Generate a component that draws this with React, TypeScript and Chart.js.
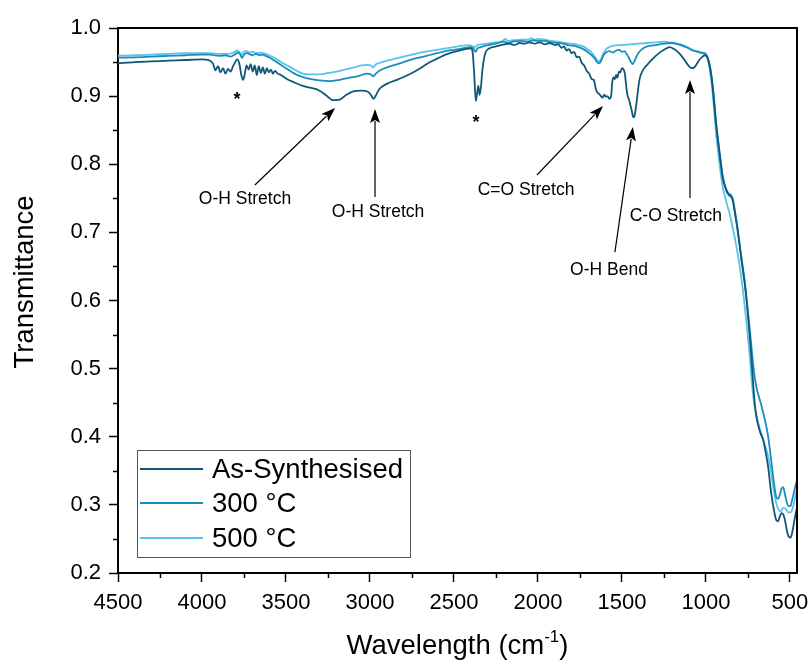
import React, { useEffect, useRef } from "react";
import { Chart, registerables } from "chart.js";

Chart.register(...registerables);

// ---------- data ----------
const seriesLabels = ["As-Synthesised", "300 °C", "500 °C"];
const seriesColors = ["#0f5878", "#1b8cbe", "#5ac4e8"];

const xTicks = [4500, 4000, 3500, 3000, 2500, 2000, 1500, 1000, 500];
const xMinorTicks = [4250, 3750, 3250, 2750, 2250, 1750, 1250, 750];
const yTicks = [0.2, 0.3, 0.4, 0.5, 0.6, 0.7, 0.8, 0.9, 1.0];
const yMinorTicks = [0.25, 0.35, 0.45, 0.55, 0.65, 0.75, 0.85, 0.95];

// [wavenumber, transmittance]
const asSynthesised: [number, number][] = [
  [4500, 0.948], [4400, 0.95], [4300, 0.951], [4200, 0.952], [4100, 0.953], [4000, 0.954],
  [3960, 0.953], [3935, 0.948], [3920, 0.938], [3905, 0.944], [3890, 0.935], [3875, 0.941],
  [3860, 0.933], [3845, 0.94], [3830, 0.936], [3815, 0.944], [3800, 0.951], [3790, 0.954],
  [3778, 0.948], [3765, 0.93], [3755, 0.924], [3745, 0.933], [3735, 0.945], [3722, 0.939],
  [3710, 0.947], [3698, 0.936], [3686, 0.945], [3674, 0.931], [3662, 0.944], [3650, 0.934],
  [3638, 0.942], [3626, 0.933], [3614, 0.941], [3602, 0.935], [3590, 0.939], [3578, 0.933],
  [3565, 0.937], [3550, 0.933], [3530, 0.931], [3500, 0.926], [3450, 0.92], [3400, 0.915],
  [3350, 0.912], [3300, 0.908], [3260, 0.901], [3220, 0.894], [3180, 0.895], [3140, 0.902],
  [3100, 0.907], [3050, 0.908], [3010, 0.906], [2990, 0.9], [2978, 0.896], [2965, 0.901],
  [2945, 0.91], [2900, 0.918], [2850, 0.923], [2800, 0.928], [2750, 0.934], [2700, 0.941],
  [2650, 0.949], [2600, 0.955], [2550, 0.961], [2500, 0.965], [2450, 0.968], [2400, 0.97],
  [2390, 0.966], [2380, 0.935], [2370, 0.893], [2362, 0.905], [2355, 0.915], [2348, 0.902],
  [2340, 0.912], [2330, 0.94], [2315, 0.962], [2290, 0.97], [2250, 0.973], [2200, 0.976],
  [2170, 0.977], [2140, 0.975], [2110, 0.978], [2080, 0.977], [2050, 0.979], [2020, 0.977],
  [1990, 0.979], [1960, 0.976], [1930, 0.978], [1900, 0.975], [1880, 0.976], [1860, 0.971],
  [1845, 0.973], [1830, 0.967], [1815, 0.969], [1800, 0.963], [1785, 0.965], [1770, 0.957],
  [1755, 0.958], [1740, 0.949], [1725, 0.945], [1710, 0.937], [1695, 0.933], [1680, 0.925],
  [1668, 0.924], [1655, 0.91], [1645, 0.905], [1635, 0.903], [1625, 0.9], [1615, 0.898],
  [1605, 0.902], [1595, 0.899], [1585, 0.9], [1575, 0.896], [1565, 0.899], [1558, 0.92],
  [1550, 0.928], [1542, 0.925], [1535, 0.931], [1527, 0.927], [1518, 0.936], [1510, 0.935],
  [1500, 0.941], [1490, 0.939], [1482, 0.932], [1474, 0.913], [1466, 0.9], [1458, 0.895],
  [1450, 0.887], [1442, 0.879], [1434, 0.87], [1428, 0.869], [1420, 0.878], [1412, 0.893],
  [1404, 0.91], [1395, 0.925], [1385, 0.933], [1370, 0.94], [1350, 0.946], [1320, 0.954],
  [1285, 0.962], [1250, 0.968], [1215, 0.972], [1190, 0.969], [1160, 0.963], [1130, 0.954],
  [1105, 0.945], [1085, 0.941], [1070, 0.942], [1055, 0.947], [1040, 0.953], [1020, 0.958],
  [1005, 0.96], [992, 0.957], [980, 0.947], [968, 0.93], [955, 0.9], [940, 0.86],
  [920, 0.818], [900, 0.78], [880, 0.762], [865, 0.755], [852, 0.753], [840, 0.746],
  [826, 0.726], [810, 0.7], [790, 0.662], [770, 0.626], [755, 0.592], [740, 0.55],
  [725, 0.5], [712, 0.455], [700, 0.43], [690, 0.418], [675, 0.405], [660, 0.396],
  [645, 0.378], [630, 0.356], [612, 0.318], [595, 0.292], [580, 0.277], [570, 0.276],
  [560, 0.283], [550, 0.288], [540, 0.286], [530, 0.278], [518, 0.262], [506, 0.253],
  [496, 0.252], [486, 0.26], [475, 0.275], [465, 0.288], [458, 0.296],
];

const calcined300: [number, number][] = [
  [4500, 0.9565], [4400, 0.957], [4300, 0.958], [4200, 0.959], [4100, 0.96], [4000, 0.961],
  [3950, 0.961], [3900, 0.959], [3860, 0.96], [3830, 0.958], [3800, 0.962], [3785, 0.964],
  [3772, 0.961], [3762, 0.956], [3750, 0.961], [3735, 0.963], [3720, 0.962], [3700, 0.96],
  [3680, 0.962], [3660, 0.96], [3640, 0.961], [3620, 0.959], [3600, 0.957], [3575, 0.953],
  [3550, 0.949], [3500, 0.941], [3450, 0.933], [3400, 0.928], [3350, 0.925], [3300, 0.923],
  [3240, 0.922], [3180, 0.924], [3120, 0.927], [3060, 0.93], [3020, 0.933], [2995, 0.932],
  [2980, 0.929], [2965, 0.933], [2940, 0.938], [2900, 0.942], [2850, 0.946], [2800, 0.95],
  [2750, 0.954], [2700, 0.957], [2650, 0.96], [2600, 0.963], [2550, 0.966], [2500, 0.968],
  [2450, 0.97], [2400, 0.972], [2385, 0.97], [2372, 0.965], [2360, 0.97], [2340, 0.972],
  [2300, 0.975], [2250, 0.977], [2200, 0.98], [2180, 0.978], [2150, 0.98], [2100, 0.981],
  [2060, 0.98], [2030, 0.982], [2000, 0.981], [1960, 0.981], [1920, 0.979], [1880, 0.978],
  [1850, 0.977], [1820, 0.975], [1790, 0.974], [1760, 0.972], [1730, 0.969], [1700, 0.964],
  [1680, 0.96], [1662, 0.955], [1648, 0.95], [1636, 0.948], [1624, 0.952], [1610, 0.96],
  [1595, 0.964], [1575, 0.966], [1555, 0.964], [1535, 0.967], [1515, 0.968], [1500, 0.965],
  [1485, 0.966], [1470, 0.961], [1458, 0.956], [1446, 0.95], [1436, 0.947], [1426, 0.951],
  [1414, 0.958], [1400, 0.964], [1380, 0.969], [1350, 0.973], [1300, 0.975], [1250, 0.977],
  [1200, 0.978], [1150, 0.975], [1110, 0.971], [1080, 0.967], [1050, 0.965], [1020, 0.963],
  [1003, 0.962], [990, 0.957], [978, 0.946], [966, 0.928], [955, 0.905], [940, 0.862],
  [920, 0.82], [900, 0.782], [880, 0.764], [865, 0.757], [852, 0.755], [840, 0.749],
  [826, 0.729], [810, 0.703], [790, 0.665], [770, 0.63], [755, 0.596], [740, 0.56],
  [725, 0.521], [712, 0.492], [700, 0.473], [685, 0.459], [670, 0.446], [650, 0.426],
  [630, 0.401], [612, 0.366], [595, 0.332], [582, 0.312], [570, 0.309], [560, 0.315],
  [550, 0.324], [540, 0.326], [530, 0.316], [518, 0.303], [506, 0.298], [496, 0.299],
  [486, 0.308], [475, 0.32], [465, 0.33], [458, 0.336],
];

const calcined500: [number, number][] = [
  [4500, 0.9594], [4400, 0.96], [4300, 0.961], [4200, 0.962], [4100, 0.963], [4000, 0.963],
  [3950, 0.963], [3900, 0.962], [3850, 0.962], [3810, 0.964], [3790, 0.967], [3778, 0.965],
  [3766, 0.961], [3752, 0.965], [3735, 0.966], [3715, 0.964], [3695, 0.965], [3675, 0.963],
  [3650, 0.964], [3620, 0.962], [3600, 0.96], [3575, 0.957], [3550, 0.953], [3500, 0.946],
  [3450, 0.939], [3400, 0.933], [3350, 0.932], [3300, 0.932], [3250, 0.934], [3200, 0.936],
  [3150, 0.939], [3100, 0.942], [3050, 0.945], [3015, 0.946], [2995, 0.945], [2982, 0.942],
  [2968, 0.946], [2940, 0.949], [2900, 0.952], [2850, 0.955], [2800, 0.958], [2750, 0.961],
  [2700, 0.964], [2650, 0.966], [2600, 0.968], [2550, 0.97], [2500, 0.972], [2450, 0.974],
  [2410, 0.975], [2390, 0.973], [2375, 0.972], [2360, 0.975], [2300, 0.977], [2250, 0.979],
  [2210, 0.981], [2195, 0.984], [2180, 0.981], [2150, 0.982], [2100, 0.983], [2060, 0.983],
  [2040, 0.985], [2020, 0.983], [2000, 0.984], [1960, 0.983], [1920, 0.981], [1880, 0.98],
  [1840, 0.978], [1800, 0.977], [1760, 0.975], [1730, 0.973], [1700, 0.968], [1680, 0.964],
  [1662, 0.958], [1648, 0.953], [1636, 0.951], [1624, 0.955], [1610, 0.963], [1595, 0.969],
  [1575, 0.972], [1550, 0.974], [1500, 0.975], [1450, 0.976], [1400, 0.977], [1350, 0.978],
  [1300, 0.979], [1250, 0.98], [1200, 0.978], [1150, 0.976], [1110, 0.972], [1080, 0.968],
  [1050, 0.966], [1020, 0.964], [1003, 0.963], [990, 0.955], [978, 0.94], [966, 0.918],
  [955, 0.89], [940, 0.846], [920, 0.802], [900, 0.766], [880, 0.746], [860, 0.728],
  [840, 0.706], [820, 0.681], [800, 0.652], [780, 0.615], [760, 0.57], [740, 0.52],
  [725, 0.475], [712, 0.447], [700, 0.432], [680, 0.412], [660, 0.396], [640, 0.381],
  [620, 0.36], [600, 0.327], [585, 0.306], [570, 0.294], [555, 0.29], [540, 0.296],
  [525, 0.294], [510, 0.289], [496, 0.289], [482, 0.297], [468, 0.312], [458, 0.324],
];

const seriesData = [asSynthesised, calcined300, calcined500];

// annotation texts (positions in data units: wavenumber, transmittance)
const peakLabels = [
  { text: "O-H Stretch", at: [3744, 0.749], from: [3685, 0.7695], to: [3208, 0.8826] },
  { text: "O-H Stretch", at: [2952, 0.73], from: [2970, 0.752], to: [2970, 0.881] },
  { text: "C=O Stretch", at: [2071, 0.762], from: [2006, 0.7842], to: [1613, 0.8855] },
  { text: "O-H Bend", at: [1577, 0.645], from: [1542, 0.671], to: [1435, 0.8547] },
  { text: "C-O Stretch", at: [1179, 0.724], from: [1095, 0.7505], to: [1095, 0.9237] },
];
const starMarks = [
  [3792, 0.887],
  [2369, 0.8532],
];

const xTitleMain = "Wavelength (cm";
const xTitleSup = "-1";
const xTitleEnd = ")";
const yTitle = "Transmittance";

const FONT = "'Liberation Sans', Arial, Helvetica, sans-serif";

function drawArrow(ctx: CanvasRenderingContext2D, x1: number, y1: number, x2: number, y2: number) {
  const ang = Math.atan2(y2 - y1, x2 - x1);
  const L = 14;
  const W = 5;
  const bx = x2 - L * Math.cos(ang);
  const by = y2 - L * Math.sin(ang);
  ctx.beginPath();
  ctx.moveTo(x1, y1);
  ctx.lineTo(bx + 2 * Math.cos(ang), by + 2 * Math.sin(ang));
  ctx.stroke();
  ctx.beginPath();
  ctx.moveTo(x2, y2);
  ctx.lineTo(bx + W * Math.sin(ang), by - W * Math.cos(ang));
  ctx.lineTo(bx + 3 * Math.cos(ang), by + 3 * Math.sin(ang));
  ctx.lineTo(bx - W * Math.sin(ang), by + W * Math.cos(ang));
  ctx.closePath();
  ctx.fill();
}

const decorPlugin = {
  id: "decor",
  afterDatasetsDraw(chart: any) {
    const { ctx, chartArea, scales } = chart;
    const xs = scales.x;
    const ys = scales.y;
    ctx.save();
    // frame top / right
    ctx.strokeStyle = "#000";
    ctx.lineWidth = 2;
    ctx.beginPath();
    ctx.moveTo(chartArea.left, chartArea.top);
    ctx.lineTo(chartArea.right, chartArea.top);
    ctx.lineTo(chartArea.right, chartArea.bottom);
    ctx.stroke();
    // minor ticks
    ctx.lineWidth = 1.5;
    ctx.beginPath();
    for (const v of xMinorTicks) {
      const px = Math.round(xs.getPixelForValue(v)) + 0.5;
      ctx.moveTo(px, chartArea.bottom);
      ctx.lineTo(px, chartArea.bottom + 5);
    }
    for (const v of yMinorTicks) {
      const py = Math.round(ys.getPixelForValue(v)) + 0.5;
      ctx.moveTo(chartArea.left, py);
      ctx.lineTo(chartArea.left - 5, py);
    }
    ctx.stroke();

    // annotations
    ctx.fillStyle = "#000";
    ctx.strokeStyle = "#000";
    ctx.lineWidth = 1.2;
    ctx.font = `17.5px ${FONT}`;
    ctx.textAlign = "center";
    ctx.textBaseline = "middle";
    for (const a of peakLabels) {
      const tx = xs.getPixelForValue(a.at[0]);
      const ty = ys.getPixelForValue(a.at[1]);
      ctx.fillText(a.text, tx, ty);
      drawArrow(
        ctx,
        xs.getPixelForValue(a.from[0]),
        ys.getPixelForValue(a.from[1]),
        xs.getPixelForValue(a.to[0]),
        ys.getPixelForValue(a.to[1])
      );
    }
    ctx.font = `bold 18px ${FONT}`;
    ctx.textBaseline = "alphabetic";
    for (const s of starMarks) {
      ctx.fillText("*", xs.getPixelForValue(s[0]), ys.getPixelForValue(s[1]));
    }

    // x axis title with superscript
    const cx = (chartArea.left + chartArea.right) / 2;
    const ty = 646;
    const big = `27.5px ${FONT}`;
    const small = `17px ${FONT}`;
    ctx.font = big;
    const w1 = ctx.measureText(xTitleMain).width;
    const w3 = ctx.measureText(xTitleEnd).width;
    ctx.font = small;
    const w2 = ctx.measureText(xTitleSup).width;
    const total = w1 + w2 + w3;
    const x0 = cx - total / 2;
    ctx.textAlign = "left";
    ctx.textBaseline = "middle";
    ctx.font = big;
    ctx.fillText(xTitleMain, x0, ty);
    ctx.font = small;
    ctx.fillText(xTitleSup, x0 + w1, ty - 9);
    ctx.font = big;
    ctx.fillText(xTitleEnd, x0 + w1 + w2, ty);

    // y axis title
    ctx.save();
    ctx.translate(25, 282);
    ctx.rotate(-Math.PI / 2);
    ctx.textAlign = "center";
    ctx.textBaseline = "middle";
    ctx.font = `27.5px ${FONT}`;
    ctx.fillText(yTitle, 0, 0);
    ctx.restore();

    // legend
    const lx = 137.5, lyTop = 450.5, lw = 273, lh = 107;
    ctx.fillStyle = "#fff";
    ctx.fillRect(lx, lyTop, lw, lh);
    ctx.strokeStyle = "#555";
    ctx.lineWidth = 1;
    ctx.strokeRect(lx, lyTop, lw, lh);
    const rows = [469, 503, 538];
    ctx.font = `27.5px ${FONT}`;
    ctx.textBaseline = "middle";
    ctx.textAlign = "left";
    seriesLabels.forEach((lab, i) => {
      ctx.strokeStyle = seriesColors[i];
      ctx.lineWidth = 2;
      ctx.beginPath();
      ctx.moveTo(140, rows[i]);
      ctx.lineTo(203, rows[i]);
      ctx.stroke();
      ctx.fillStyle = "#000";
      ctx.fillText(lab, 212, rows[i] + 1);
    });
    ctx.restore();
  },
};

export default function App() {
  const ref = useRef<HTMLCanvasElement | null>(null);
  useEffect(() => {
    if (!ref.current) return;
    const chart = new Chart(ref.current, {
      type: "line",
      data: {
        datasets: seriesData.map((s, i) => ({
          label: seriesLabels[i],
          data: s.map(([x, y]) => ({ x, y })),
          borderColor: seriesColors[i],
          borderWidth: 1.8,
          pointRadius: 0,
          fill: false,
          cubicInterpolationMode: "monotone" as const,
        })),
      },
      options: {
        animation: false,
        responsive: false,
        devicePixelRatio: 1,
        parsing: false as any,
        layout: { padding: { left: 0, top: 28, right: 13, bottom: 0 } },
        plugins: {
          legend: { display: false },
          tooltip: { enabled: false },
          title: { display: false },
        },
        scales: {
          x: {
            type: "linear",
            reverse: true,
            min: 458,
            max: 4500,
            afterBuildTicks: (scale: any) => {
              scale.ticks = xTicks.map((v) => ({ value: v }));
            },
            afterFit: (scale: any) => {
              scale.height = 89;
              scale.paddingLeft = 0;
              scale.paddingRight = 0;
            },
            ticks: {
              color: "#000",
              font: { family: FONT, size: 22 },
              padding: 8,
              maxRotation: 0,
              autoSkip: false,
              callback: (v: any) => String(v),
            },
            grid: {
              drawOnChartArea: false,
              drawTicks: true,
              tickLength: 9,
              tickWidth: 1.5,
              tickColor: "#000",
            },
            border: { display: true, color: "#000", width: 2 },
          },
          y: {
            type: "linear",
            min: 0.2,
            max: 1.0,
            afterBuildTicks: (scale: any) => {
              scale.ticks = yTicks.map((v) => ({ value: v }));
            },
            afterFit: (scale: any) => {
              scale.width = 118;
              scale.paddingTop = 0;
              scale.paddingBottom = 0;
            },
            ticks: {
              color: "#000",
              font: { family: FONT, size: 22 },
              padding: 8,
              autoSkip: false,
              callback: (v: any) => Number(v).toFixed(1),
            },
            grid: {
              drawOnChartArea: false,
              drawTicks: true,
              tickLength: 9,
              tickWidth: 1.5,
              tickColor: "#000",
            },
            border: { display: true, color: "#000", width: 2 },
            title: { display: false },
          },
        },
      },
      plugins: [decorPlugin],
    });
    return () => chart.destroy();
  }, []);
  return (
    <div style={{ position: "absolute", left: 0, top: 0, width: 810, height: 662, background: "#fff" }}>
      <canvas ref={ref} width={810} height={662} style={{ width: 810, height: 662 }} />
    </div>
  );
}
